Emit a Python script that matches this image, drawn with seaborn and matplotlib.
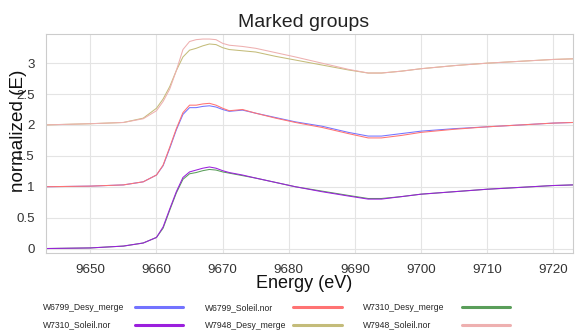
import numpy as np
import pandas as pd
import matplotlib
matplotlib.use("Agg")
import matplotlib.pyplot as plt
import seaborn as sns

# energy grid (eV)
energy = [9643, 9650, 9655, 9658, 9660, 9661, 9662, 9663, 9664, 9665, 9666,
          9667, 9668, 9669, 9670, 9671, 9673, 9675, 9678, 9681, 9685, 9689,
          9692, 9694, 9697, 9700, 9705, 9710, 9715, 9720, 9723]

# group offset 1
w6799_desy = [1.00, 1.01, 1.03, 1.08, 1.19, 1.34, 1.62, 1.92, 2.17, 2.28, 2.28,
              2.30, 2.31, 2.29, 2.25, 2.22, 2.24, 2.19, 2.12, 2.05, 1.98, 1.88,
              1.82, 1.82, 1.86, 1.90, 1.94, 1.97, 2.00, 2.03, 2.04]
w6799_soleil = [1.00, 1.01, 1.03, 1.08, 1.19, 1.35, 1.64, 1.94, 2.20, 2.32, 2.32,
                2.34, 2.35, 2.32, 2.27, 2.23, 2.25, 2.19, 2.11, 2.04, 1.96, 1.86,
                1.79, 1.79, 1.83, 1.88, 1.93, 1.97, 2.00, 2.03, 2.04]
# group offset 0
w7310_desy = [0.00, 0.01, 0.04, 0.09, 0.18, 0.33, 0.62, 0.90, 1.12, 1.21, 1.23,
              1.26, 1.28, 1.27, 1.24, 1.22, 1.18, 1.14, 1.07, 1.00, 0.93, 0.86,
              0.81, 0.81, 0.84, 0.88, 0.92, 0.96, 0.99, 1.02, 1.03]
w7310_soleil = [0.00, 0.01, 0.04, 0.09, 0.18, 0.35, 0.64, 0.92, 1.15, 1.24, 1.27,
                1.30, 1.32, 1.30, 1.26, 1.23, 1.19, 1.14, 1.07, 1.00, 0.92, 0.85,
                0.80, 0.80, 0.84, 0.88, 0.92, 0.96, 0.99, 1.02, 1.03]
# group offset 2
w7948_desy = [2.00, 2.02, 2.04, 2.11, 2.27, 2.42, 2.62, 2.88, 3.10, 3.21, 3.24,
              3.28, 3.31, 3.30, 3.25, 3.22, 3.20, 3.18, 3.11, 3.05, 2.97, 2.89,
              2.84, 2.84, 2.87, 2.91, 2.96, 3.00, 3.03, 3.06, 3.07]
w7948_soleil = [2.00, 2.02, 2.04, 2.10, 2.23, 2.38, 2.58, 2.88, 3.22, 3.35, 3.38,
                3.39, 3.39, 3.38, 3.32, 3.29, 3.27, 3.24, 3.17, 3.10, 3.00, 2.90,
                2.84, 2.84, 2.87, 2.91, 2.96, 3.00, 3.03, 3.06, 3.07]

names = ["W6799_Desy_merge", "W6799_Soleil.nor", "W7310_Desy_merge",
         "W7310_Soleil.nor", "W7948_Desy_merge", "W7948_Soleil.nor"]
series = [w6799_desy, w6799_soleil, w7310_desy, w7310_soleil, w7948_desy, w7948_soleil]
colors = ["#7373ff", "#ff7373", "#5a9e5a", "#9b1fdd", "#c4bc7a", "#eeb0b0"]

df = pd.concat([pd.DataFrame({"energy": energy, "mu": s, "name": n})
                for n, s in zip(names, series)], ignore_index=True)

sns.set_theme(style="whitegrid")
plt.rcParams["font.family"] = ["Liberation Sans", "DejaVu Sans"]

fig = plt.figure(figsize=(5.75, 3.31), dpi=100)
ax = fig.add_axes([0.08, 0.236, 0.917, 0.661])

sns.lineplot(data=df, x="energy", y="mu", hue="name", hue_order=names,
             palette=dict(zip(names, colors)), linewidth=0.75, ax=ax, legend=False)

ax.set_xlim(9643.3, 9723)
ax.set_ylim(-0.07, 3.47)
ax.set_xticks([9650, 9660, 9670, 9680, 9690, 9700, 9710, 9720])
ax.set_yticks([0, 0.5, 1, 1.5, 2, 2.5, 3])
ax.set_yticklabels(["0", "0.5", "1", "1.5", "2", "2.5", "3"])
ax.tick_params(labelsize=9.6, colors="#333333", pad=2)
ax.grid(color="#e4e4e4", linewidth=0.8)
for sp in ax.spines.values():
    sp.set_color("#cccccc")
    sp.set_linewidth(0.8)

ax.set_title("Marked groups", fontsize=14, color="#222222", pad=5, x=0.488)
ax.set_xlabel("Energy (eV)", fontsize=13, color="#111111", labelpad=1)
# the y label sits over the tick labels, as in the original
ax.set_ylabel("normalized (E)", fontsize=13.6, color="#111111")
ax.xaxis.set_label_coords(0.49, -0.1)
ax.yaxis.set_label_coords(-0.036, 0.559)

# legend laid out column-wise to match row order in the picture
order = [0, 3, 1, 4, 2, 5]
handles = [plt.Line2D([], [], color=colors[i], linewidth=2.2) for i in order]
labels = [names[i] for i in order]
leg = fig.legend(handles, labels, loc="lower center", bbox_to_anchor=(0.481, -0.019),
                 ncol=3, frameon=False, fontsize=6.2, markerfirst=False,
                 handlelength=5.6, columnspacing=2.5, labelspacing=1.0,
                 handletextpad=1.2)
# left-align the text and right-align the handles inside each column
col_widths = [140, 137, 147]
for col, w in zip(leg._legend_handle_box.get_children(), col_widths):
    for item in col.get_children():
        item.mode = "expand"
        item.width = w

fig.savefig("out.png", dpi=100)
